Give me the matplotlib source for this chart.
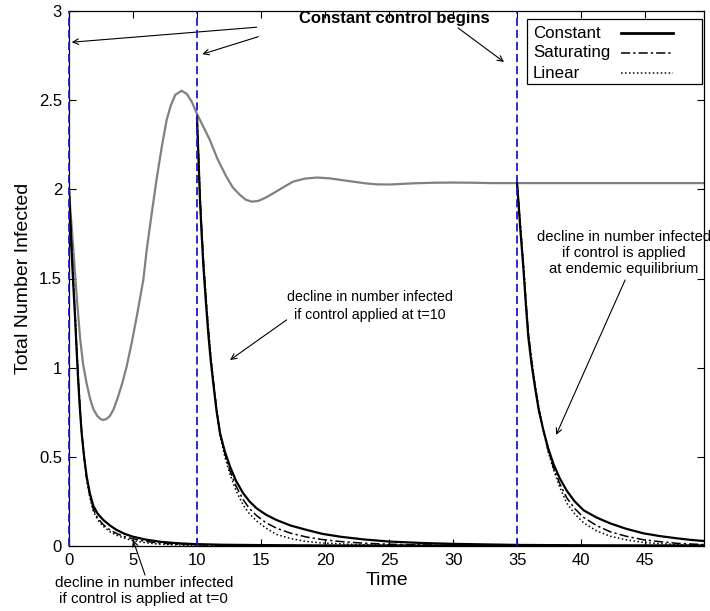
import matplotlib
matplotlib.use("Agg")
import matplotlib.pyplot as plt
from matplotlib.lines import Line2D
from matplotlib.patches import Rectangle

plt.rcParams['font.family'] = ['Liberation Sans', 'DejaVu Sans']

# Endemic trajectory without control
t_endemic = [0, 0.2, 0.34, 0.6, 0.86, 1.1, 1.38, 1.65, 1.9, 2.2, 2.5, 2.7, 2.95, 3.2,
             3.46, 3.8, 4.15, 4.5, 4.9, 5.29, 5.8, 6.07, 6.45, 6.85, 7.25, 7.63, 7.95,
             8.3, 8.8, 9.2, 9.6, 9.97, 10.5, 11.0, 11.6, 12.3, 12.8, 13.36, 13.8, 14.27,
             14.8, 15.4, 15.96, 16.7, 17.5, 18.4, 19.35, 20.3, 21.2, 22.2, 23.1, 24.0,
             25.0, 25.86, 27.0, 28.5, 30.0, 31.5, 33.0, 35.0, 49.6]
i_endemic = [1.99, 1.80, 1.66, 1.40, 1.17, 1.02, 0.91, 0.825, 0.768, 0.73, 0.71, 0.707,
             0.713, 0.73, 0.763, 0.83, 0.91, 1.006, 1.14, 1.286, 1.49, 1.66, 1.86, 2.06,
             2.24, 2.39, 2.47, 2.53, 2.553, 2.535, 2.49, 2.427, 2.35, 2.277, 2.17, 2.07,
             2.01, 1.968, 1.942, 1.931, 1.935, 1.955, 1.978, 2.01, 2.043, 2.06, 2.066,
             2.062, 2.053, 2.043, 2.034, 2.028, 2.027, 2.03, 2.034, 2.037, 2.038, 2.037,
             2.035, 2.035, 2.035]

# Control switched on at t=0
t_c0 = [0, 0.1, 0.2, 0.33, 0.47, 0.6, 0.73, 0.86, 0.99, 1.18, 1.38, 1.63, 1.9, 2.25,
        2.68, 3.2, 3.72, 4.35, 5.0, 6.0, 7.1, 8.4, 9.7, 12, 15, 20, 30, 40, 49.6]
const_c0 = [2.0, 1.83, 1.66, 1.47, 1.286, 1.09, 0.912, 0.76, 0.632, 0.5, 0.389, 0.295,
            0.225, 0.18, 0.146, 0.115, 0.09, 0.068, 0.052, 0.036, 0.024, 0.016, 0.011,
            0.007, 0.005, 0.003, 0.002, 0.001, 0.001]
sat_c0 = [2.0, 1.84, 1.68, 1.49, 1.31, 1.11, 0.93, 0.77, 0.64, 0.5, 0.38, 0.28, 0.205,
          0.155, 0.12, 0.09, 0.07, 0.052, 0.04, 0.026, 0.016, 0.01, 0.007, 0.004, 0.003,
          0.002, 0.001, 0.001, 0.001]
lin_c0 = [2.0, 1.845, 1.69, 1.5, 1.32, 1.12, 0.94, 0.78, 0.64, 0.495, 0.37, 0.27, 0.195,
          0.145, 0.11, 0.08, 0.06, 0.043, 0.03, 0.018, 0.01, 0.006, 0.004, 0.002, 0.001,
          0.001, 0.001, 0.001, 0.001]

# Control switched on at t=10
t_c10 = [10, 10.12, 10.23, 10.36, 10.5, 10.69, 10.88, 11.07, 11.27, 11.52, 11.8, 12.17,
         12.58, 13.05, 13.6, 14.1, 14.66, 15.4, 16.2, 17.3, 18.57, 19.8, 21.2, 23, 25,
         27.5, 30, 35, 40, 49.6]
const_c10 = [2.4, 2.16, 1.94, 1.75, 1.566, 1.37, 1.19, 1.04, 0.912, 0.76, 0.632, 0.53,
             0.445, 0.365, 0.296, 0.25, 0.211, 0.175, 0.146, 0.115, 0.09, 0.068, 0.052,
             0.037, 0.025, 0.017, 0.012, 0.006, 0.004, 0.002]
sat_c10 = [2.4, 2.18, 1.97, 1.78, 1.6, 1.4, 1.22, 1.06, 0.93, 0.77, 0.63, 0.52, 0.42,
           0.335, 0.26, 0.21, 0.17, 0.13, 0.1, 0.072, 0.05, 0.036, 0.025, 0.016, 0.01,
           0.006, 0.004, 0.002, 0.001, 0.001]
lin_c10 = [2.4, 2.19, 1.98, 1.79, 1.61, 1.41, 1.23, 1.07, 0.93, 0.77, 0.62, 0.5, 0.4,
           0.31, 0.23, 0.18, 0.14, 0.1, 0.065, 0.042, 0.025, 0.017, 0.012, 0.007, 0.005,
           0.003, 0.002, 0.001, 0.001, 0.001]

# Control switched on at the endemic equilibrium (t=35)
t_c35 = [35, 35.25, 35.5, 35.69, 35.88, 36.13, 36.4, 36.7, 37.05, 37.42, 37.84, 38.33,
         38.88, 39.5, 40.2, 41.2, 42.27, 43.5, 44.87, 46.2, 47.5, 48.6, 49.6]
const_c35 = [2.035, 1.78, 1.55, 1.35, 1.17, 1.02, 0.89, 0.76, 0.65, 0.55, 0.46, 0.38,
             0.31, 0.25, 0.2, 0.16, 0.127, 0.097, 0.071, 0.055, 0.043, 0.034, 0.028]
sat_c35 = [2.035, 1.8, 1.57, 1.37, 1.19, 1.04, 0.9, 0.77, 0.65, 0.54, 0.44, 0.35, 0.27,
           0.21, 0.16, 0.115, 0.08, 0.055, 0.035, 0.024, 0.015, 0.011, 0.008]
lin_c35 = [2.035, 1.81, 1.58, 1.38, 1.2, 1.05, 0.91, 0.77, 0.65, 0.53, 0.43, 0.33, 0.24,
           0.18, 0.13, 0.085, 0.055, 0.035, 0.02, 0.013, 0.008, 0.006, 0.004]

control_starts = [0, 10, 35]
x_ticks = [0, 5, 10, 15, 20, 25, 30, 35, 40, 45]
y_ticks = [0, 0.5, 1, 1.5, 2, 2.5, 3]
y_ticklabels = ['0', '0.5', '1', '1.5', '2', '2.5', '3']
legend_labels = ['Constant', 'Saturating', 'Linear']

W, H = 710, 611
AX_L, AX_B, AX_W, AX_H = 69, 65, 635, 535

fig = plt.figure(figsize=(W / 100, H / 100), dpi=100)
ax = fig.add_axes([AX_L / W, AX_B / H, AX_W / W, AX_H / H])


def ax_frac(px, py):
    """Pixel position (from the image's top-left) to axes fraction."""
    return (px - AX_L) / AX_W, ((H - py) - AX_B) / AX_H


ax.plot(t_endemic, i_endemic, color='#808080', lw=1.6)

solid = dict(color='black', lw=1.6, linestyle='-')
dashdot = dict(color='black', lw=1.1, linestyle=(0, (6, 2, 1.5, 2)))
dotted = dict(color='black', lw=1.1, linestyle=(0, (1, 1.6)))
styles = [solid, dashdot, dotted]

for t, c, s, l in [(t_c0, const_c0, sat_c0, lin_c0),
                   (t_c10, const_c10, sat_c10, lin_c10),
                   (t_c35, const_c35, sat_c35, lin_c35)]:
    ax.plot(t, l, **dotted)
    ax.plot(t, s, **dashdot)
    ax.plot(t, c, **solid)

for ts in control_starts:
    ax.plot([ts, ts], [0, 3], color='#1a1acc', lw=1.3,
            linestyle=(0, (4.5, 2.2)), clip_on=False, zorder=5)

ax.set_xlim(0, 49.6)
ax.set_ylim(0, 3)
ax.set_xticks(x_ticks)
ax.set_yticks(y_ticks)
ax.set_yticklabels(y_ticklabels)
ax.tick_params(direction='in', top=True, right=True, length=5, width=0.8,
               labelsize=12, pad=5)
for sp in ax.spines.values():
    sp.set_linewidth(0.9)

ax.set_xlabel('Time', fontsize=14, labelpad=3)
ax.set_ylabel('Total Number Infected', fontsize=14, labelpad=5)

# Legend box: labels left-aligned, line samples on the right
x0, y0 = ax_frac(527, 84)
x1, y1 = ax_frac(702, 19)
ax.add_patch(Rectangle((x0, y0), x1 - x0, y1 - y0, transform=ax.transAxes,
                       facecolor='white', edgecolor='black', lw=0.9, zorder=6))
for k, (lab, st) in enumerate(zip(legend_labels, styles)):
    py = 33 + 20 * k
    tx, ty = ax_frac(533, py)
    ax.text(tx, ty, lab, transform=ax.transAxes, fontsize=12.2, ha='left',
            va='center', zorder=7)
    lx0, ly = ax_frac(621, py)
    lx1, _ = ax_frac(673, py)
    lw = 2.0 if st is solid else st['lw']
    ax.add_line(Line2D([lx0, lx1], [ly, ly], transform=ax.transAxes, color='black',
                       lw=lw, linestyle=st['linestyle'], zorder=7))

arrow = dict(arrowstyle='->', color='black', lw=0.8, shrinkA=0, shrinkB=0)

ax.text(25.4, 2.96, 'Constant control begins', fontsize=12, fontweight='bold',
        ha='center', va='center')
ax.annotate('', xy=(0.21, 2.825), xytext=(14.66, 2.909), arrowprops=arrow)
ax.annotate('', xy=(10.41, 2.758), xytext=(14.79, 2.856), arrowprops=arrow)
ax.annotate('', xy=(33.98, 2.714), xytext=(30.39, 2.905), arrowprops=arrow)

ax.text(23.5, 1.346, 'decline in number infected\nif control applied at t=10',
        fontsize=10.2, ha='center', va='center', linespacing=1.4)
ax.annotate('', xy=(12.58, 1.043), xytext=(17.0, 1.268), arrowprops=arrow)

ax.text(43.35, 1.643, 'decline in number infected\nif control is applied\nat endemic equilibrium',
        fontsize=10.7, ha='center', va='center', linespacing=1.2, clip_on=False)
ax.annotate('', xy=(38.05, 0.623), xytext=(43.44, 1.492), arrowprops=arrow)

ax.text(5.85, -0.252, 'decline in number infected\nif control is applied at t=0',
        fontsize=11, ha='center', va='center', linespacing=1.15, clip_on=False)
ax.annotate('', xy=(5.0, 0.034), xytext=(5.94, -0.163), arrowprops=arrow,
            annotation_clip=False)

fig.savefig('out.png', dpi=100)
